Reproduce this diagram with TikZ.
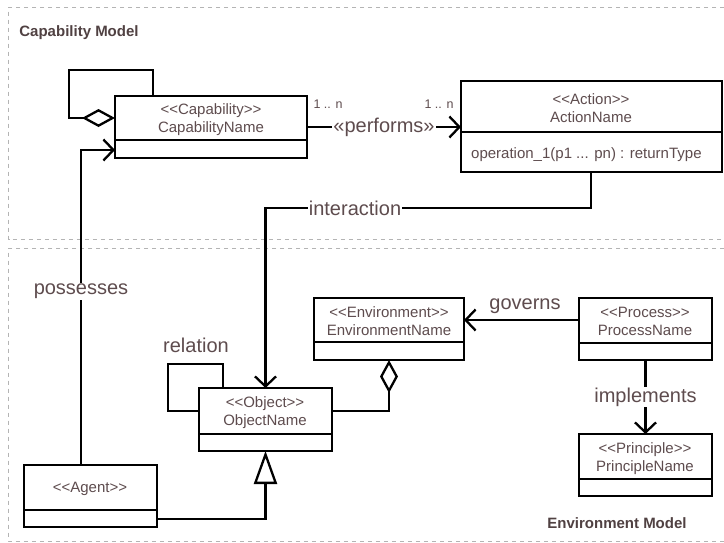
\documentclass[tikz,border=0pt]{standalone}
\usepackage{fontspec}
\setmainfont{Liberation Sans}[Ligatures={NoCommon,NoRequired},Kerning=On]
\usetikzlibrary{arrows.meta,calc}
\definecolor{inktext}{HTML}{5E4C4E}
\definecolor{framegray}{HTML}{B4B4B4}
\tikzset{
  classbox/.style={draw=black,line width=2.6pt,fill=white,anchor=north west,inner sep=0pt,outer sep=0pt},
  classtext/.style={text=inktext,font=\fontsize{15}{18}\selectfont,align=center,inner sep=0pt},
  divider/.style={draw=black,line width=2.6pt},
  conn/.style={draw=black,line width=2.3pt},
  openhead/.style={conn,-{Straight Barb[length=10pt,width=21pt,line width=2.3pt]}},
  aggr/.style={conn,-{Diamond[open,length=33pt,width=18pt,line width=2.3pt]}},
  gener/.style={conn,-{Triangle[open,length=33pt,width=23pt,line width=2.3pt]}},
  assoclabel/.style={text=inktext,font=\fontsize{20}{23}\selectfont,fill=white,inner sep=1pt},
  plainlabel/.style={text=inktext,font=\fontsize{20}{23}\selectfont,inner sep=0pt},
  multlabel/.style={text=inktext,font=\fontsize{12.5}{15}\selectfont,inner sep=0pt},
  modeltitle/.style={text=inktext!85!black,font=\bfseries\fontsize{15}{18}\selectfont,inner sep=0pt},
  frameline/.style={draw=framegray,line width=1pt,dash pattern=on 4pt off 4pt}
}
% name, x, y, width, top height, total height
\newcommand{\umlclass}[6]{%
  \node[classbox,minimum width=#4pt,minimum height=#6pt] (#1) at (#2,#3) {};
  \draw[divider] ([yshift=-#5pt]#1.north west) -- ([yshift=-#5pt]#1.north east);
}
\newcommand{\stereo}[1]{{<}{<}#1{>}{>}}
\begin{document}
\begin{tikzpicture}[x=1pt,y=-1pt]
\useasboundingbox (0,0) rectangle (724,542);
\fill[white] (0,0) rectangle (724,542);
% frames
\draw[frameline] (724,7) -- (8.5,7) -- (8.5,239) -- (724,239);
\draw[frameline] (724,248) -- (8.5,248) -- (8.5,541) -- (724,541);
% classes
\umlclass{cap}{115}{96}{192}{44}{62}
\umlclass{act}{461}{81}{261}{51}{91}
\umlclass{obj}{199}{388}{133}{46}{63}
\umlclass{agent}{24}{465}{133}{45}{62}
\umlclass{env}{314}{298}{150}{44}{62}
\umlclass{proc}{579}{298}{133}{45}{62}
\umlclass{prin}{579}{434}{133}{45}{62}
% class texts
\node[classtext] (capt) at (211,120) {\stereo{Capability}\\CapabilityName};
\node[classtext] (actt) at (591,108) {\stereo{Action}\\ActionName};
\node[classtext,anchor=west] (acto) at (471,155) {operation\_1(p1 ... pn) : returnType};
\node[classtext] (objt) at (265,413) {\stereo{Object}\\ObjectName};
\node[classtext] (agentt) at (90,489) {\stereo{Agent}};
\node[classtext] (envt) at (389,321) {\stereo{Environment}\\EnvironmentName};
\node[classtext] (proct) at (645,321) {\stereo{Process}\\ProcessName};
\node[classtext] (print) at (645,459) {\stereo{Principle}\\PrincipleName};
% connectors
\draw[aggr] ([xshift=38pt]cap.north west) -- ++(0,-26) -| ++(-84,48) -- ([yshift=-22pt]cap.north west);
\draw[openhead] ([yshift=-31pt]cap.north east) -- node[assoclabel] (perf) {«performs»} ([yshift=-46pt]act.north west);
\draw[openhead] ([xshift=130pt]act.south west) |- (355,208) -| (obj.north) node[pos=0,assoclabel] (inter) {interaction};
\draw[openhead] ([xshift=57pt]agent.north west) |- ([yshift=-54pt]cap.north west) node[pos=0.276,assoclabel] (poss) {possesses};
\draw[conn] ([xshift=24pt]obj.north west) -- ++(0,-24) -| ++(-55,47) -- ([yshift=-23pt]obj.north west);
\draw[gener] ([yshift=-54pt]agent.north east) -| (obj.south);
\draw[aggr] ([yshift=-23pt]obj.north east) -| (env.south);
\draw[openhead] ([yshift=-22pt]proc.north west) -- ([yshift=-22pt]env.north east);
\draw[openhead] (proc.south) -- node[assoclabel,pos=0.5] (impl) {implements} (prin.north);
% free labels
\node[plainlabel] (rel) at (196,345) {relation};
\node[plainlabel] (gov) at (525,306) {governs};
\node[multlabel] (m1) at (328,104) {1 .. n};
\node[multlabel] (m2) at (439,104) {1 .. n};
\node[modeltitle] (capm) at (79,33) {Capability Model};
\node[modeltitle] (envm) at (617,523) {Environment Model};
\end{tikzpicture}
\end{document}
